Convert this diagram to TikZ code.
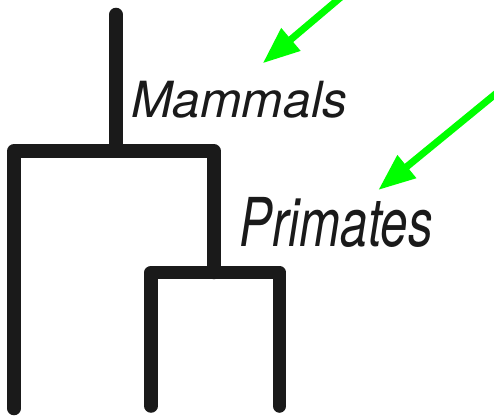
\documentclass[tikz,border=0pt]{standalone}
\usepackage{fontspec}
\usepackage{graphicx}
\setmainfont{TeX Gyre Heros}
\usetikzlibrary{arrows.meta}
\definecolor{arrowgreen}{RGB}{0,255,0}
\definecolor{treeblack}{RGB}{26,26,26}
\begin{document}
\begin{tikzpicture}[x=1pt,y=-1pt,
  branch/.style={draw=treeblack,line width=13.5pt,line cap=round,line join=round},
  pointer/.style={draw=arrowgreen,line width=7pt,-{Triangle[length=37pt,width=28pt]}},
  label/.style={inner sep=0pt,anchor=base west,text=treeblack}]
\useasboundingbox (0,0) rectangle (494,417);
\clip (0,0) rectangle (494,417);
% tree coordinates
\coordinate (root) at (116,14.5);
\coordinate (n1) at (116,151);
\coordinate (L) at (14,151);
\coordinate (Lend) at (14,408.5);
\coordinate (R) at (214,151);
\coordinate (n2) at (214,272.5);
\coordinate (RL) at (151,272.5);
\coordinate (RLend) at (151,406);
\coordinate (RR) at (279.5,272.5);
\coordinate (RRend) at (279.5,406);
\draw[branch] (root) -- (n1);
\draw[branch] (Lend) -- (L) -- (R) -- (n2);
\draw[branch] (RLend) -- (RL) -- (RR) -- (RRend);
% labels
\node[label] (mammals) at (131,117.3) {\fontsize{49.8}{52}\selectfont\itshape Mammals};
\node[label] (primates) at (239.5,246.7) {\scalebox{0.73}[1]{\fontsize{67.4}{70}\selectfont\itshape Primates}};
% arrows
\coordinate (a1s) at (349.3,-10);
\coordinate (a1t) at (262.7,63.3);
\coordinate (a2s) at (504,87);
\coordinate (a2t) at (378.3,190);
\draw[pointer] (a1s) -- (a1t);
\draw[pointer] (a2s) -- (a2t);
\end{tikzpicture}
\end{document}
